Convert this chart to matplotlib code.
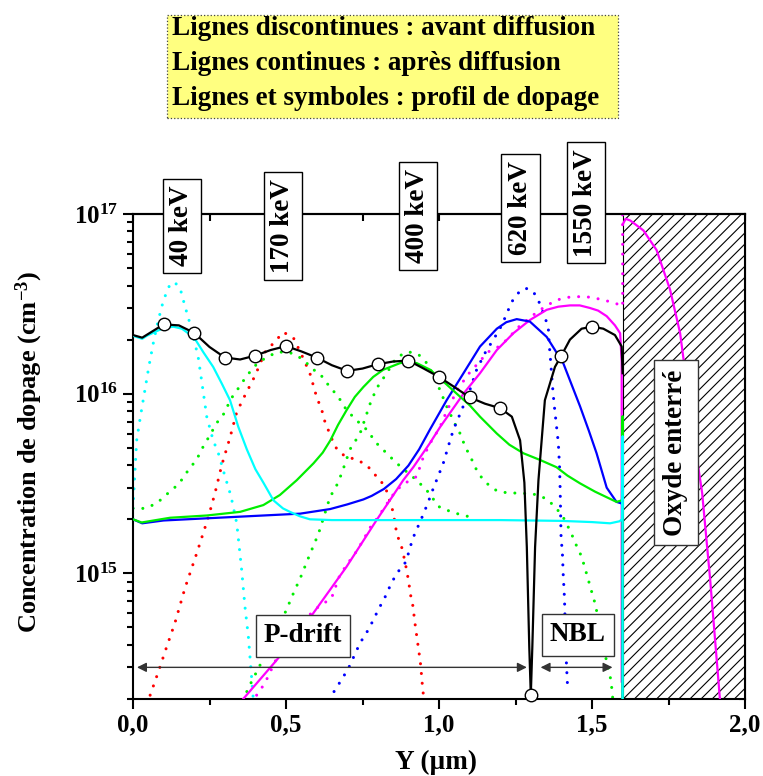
import matplotlib
matplotlib.use('Agg')
import matplotlib.pyplot as plt
from matplotlib.patches import Rectangle
from matplotlib.ticker import (MultipleLocator, LogLocator, NullFormatter,
                               FuncFormatter, LogFormatterMathtext)

plt.rcParams['font.family'] = 'Liberation Serif'
plt.rcParams['font.weight'] = 'bold'
plt.rcParams['mathtext.fontset'] = 'custom'
plt.rcParams['mathtext.rm'] = 'Liberation Serif:bold'
plt.rcParams['mathtext.bf'] = 'Liberation Serif:bold'
plt.rcParams['mathtext.default'] = 'bf'
plt.rcParams['hatch.linewidth'] = 0.8

# ---- doping profile (black line + open circles)
prof_x = [0, 0.03, 0.1, 0.15, 0.2, 0.25, 0.3, 0.35, 0.4, 0.45, 0.5, 0.55, 0.6, 0.65,
          0.7, 0.75, 0.8, 0.85, 0.9, 0.95, 1.0, 1.05, 1.1, 1.15, 1.2, 1.238, 1.265,
          1.279, 1.287, 1.295, 1.30, 1.305, 1.314, 1.325, 1.346, 1.379, 1.4, 1.428,
          1.466, 1.5, 1.537, 1.575, 1.597, 1.6]
prof_y = [2.12e16, 2.05e16, 2.43e16, 2.4e16, 2.18e16, 1.82e16, 1.59e16, 1.55e16,
          1.63e16, 1.75e16, 1.84e16, 1.72e16, 1.59e16, 1.44e16, 1.34e16, 1.38e16,
          1.46e16, 1.51e16, 1.53e16, 1.38e16, 1.24e16, 1.09e16, 9.55e15, 8.8e15,
          8.3e15, 7.45e15, 5.5e15, 3.2e15, 1.4e15, 3.9e14, 2.1e14, 3.9e14, 1.4e15,
          3.3e15, 9.2e15, 1.41e16, 1.63e16, 2.0e16, 2.3e16, 2.36e16, 2.3e16, 2.12e16,
          1.83e16, 1.3e16]
mark_x = [0.1, 0.2, 0.3, 0.4, 0.5, 0.6, 0.7, 0.8, 0.9, 1.0, 1.1, 1.2, 1.3, 1.4, 1.5]
mark_y = [2.43e16, 2.18e16, 1.59e16, 1.63e16, 1.84e16, 1.59e16, 1.34e16, 1.46e16,
          1.53e16, 1.24e16, 9.55e15, 8.3e15, 2.1e14, 1.63e16, 2.36e16]

# ---- after diffusion (solid)
cyan_x = [0, 0.03, 0.045, 0.07, 0.1, 0.132, 0.16, 0.2, 0.23, 0.262, 0.29, 0.317, 0.344,
          0.372, 0.4, 0.426, 0.459, 0.49, 0.513, 0.545, 0.578, 0.65, 0.8, 1.0, 1.2, 1.4,
          1.5, 1.559, 1.59, 1.598, 1.6, 1.6]
cyan_y = [2.1e16, 2.02e16, 2.1e16, 2.2e16, 2.32e16, 2.36e16, 2.3e16, 2.05e16, 1.7e16,
          1.41e16, 1.14e16, 9.2e15, 6.55e15, 4.9e15, 3.8e15, 3.2e15, 2.55e15, 2.3e15,
          2.2e15, 2.08e15, 2.0e15, 1.98e15, 1.98e15, 1.98e15, 1.98e15, 1.96e15, 1.93e15,
          1.9e15, 1.95e15, 2.0e15, 5.8e15, 1e13]
green_x = [0, 0.028, 0.121, 0.241, 0.35, 0.426, 0.48, 0.535, 0.59, 0.62, 0.645, 0.67,
           0.698, 0.725, 0.753, 0.785, 0.818, 0.873, 0.9, 0.927, 0.971, 1.014, 1.058,
           1.101, 1.134, 1.189, 1.23, 1.276, 1.33, 1.384, 1.42, 1.461, 1.51, 1.559,
           1.58, 1.598, 1.6, 1.6]
green_y = [2.0e15, 1.92e15, 2.04e15, 2.1e15, 2.2e15, 2.4e15, 2.73e15, 3.3e15, 4.1e15,
           4.7e15, 5.5e15, 6.7e15, 8.1e15, 9.6e15, 1.09e16, 1.24e16, 1.36e16, 1.48e16,
           1.5e16, 1.48e16, 1.36e16, 1.17e16, 1.0e16, 8.6e15, 7.45e15, 6.0e15, 5.2e15,
           4.66e15, 4.28e15, 3.9e15, 3.5e15, 3.17e15, 2.85e15, 2.6e15, 2.5e15, 2.55e15,
           7.5e15, 1e13]
blue_x = [0, 0.03, 0.1, 0.252, 0.426, 0.546, 0.644, 0.7, 0.753, 0.78, 0.82, 0.86, 0.9,
          0.935, 0.97, 1.025, 1.08, 1.134, 1.189, 1.22, 1.254, 1.297, 1.352, 1.406, 1.461,
          1.49, 1.515, 1.548, 1.58, 1.597, 1.6, 1.6]
blue_y = [2.0e15, 1.9e15, 1.97e15, 2.03e15, 2.1e15, 2.15e15, 2.28e15, 2.42e15, 2.58e15,
          2.7e15, 2.95e15, 3.35e15, 3.98e15, 4.9e15, 6.3e15, 9.2e15, 1.3e16, 1.83e16,
          2.3e16, 2.5e16, 2.6e16, 2.52e16, 2.07e16, 1.48e16, 8.5e15, 6.2e15, 4.66e15,
          3.0e15, 2.5e15, 2.45e15, 2.6e15, 1e13]
mag_x = [0.36, 0.47, 0.589, 0.698, 0.796, 0.84, 0.883, 0.916, 0.97, 1.003, 1.08, 1.134,
         1.189, 1.243, 1.297, 1.352, 1.39, 1.428, 1.46, 1.493, 1.52, 1.548, 1.575, 1.592,
         1.597, 1.597]
mag_y = [2e14, 3.3e14, 6e14, 1.09e15, 1.98e15, 2.56e15, 3.3e15, 3.9e15, 5.3e15, 6.5e15,
         1.0e16, 1.3e16, 1.75e16, 2.17e16, 2.57e16, 2.93e16, 3.05e16, 3.1e16, 3.1e16,
         3.0e16, 2.9e16, 2.7e16, 2.4e16, 2.17e16, 1.5e16, 2.5e14]
oxmag_x = [1.601, 1.61, 1.625, 1.668, 1.711, 1.755, 1.788, 1.831, 1.86, 1.886, 1.918]
oxmag_y = [8.8e16, 9.4e16, 9.2e16, 8.1e16, 6.3e16, 3.8e16, 2.17e16, 6.0e15, 2.8e15,
           9.3e14, 2.0e14]

# ---- before diffusion (dotted)
cyan_dot_x = [0, 0.006, 0.012, 0.025, 0.039, 0.052, 0.066, 0.08, 0.094, 0.11, 0.124,
              0.14, 0.154, 0.17, 0.186, 0.2, 0.213, 0.224, 0.241, 0.262, 0.279, 0.301,
              0.32, 0.339, 0.355, 0.366, 0.377, 0.385, 0.393]
cyan_dot_y = [2.3e15, 3.6e15, 5.5e15, 7.6e15, 1.05e16, 1.42e16, 1.9e16, 2.45e16, 3.06e16,
              3.7e16, 4.15e16, 4.1e16, 3.86e16, 3.06e16, 2.46e16, 1.98e16, 1.6e16, 1.19e16,
              7.45e15, 5.5e15, 4.66e15, 3.45e15, 2.7e15, 1.9e15, 1.05e15, 6.5e14, 4.45e14,
              3.0e14, 2e14]
red_dot_x = [0.056, 0.083, 0.11, 0.137, 0.17, 0.208, 0.246, 0.268, 0.29, 0.317, 0.339,
             0.366, 0.399, 0.431, 0.464, 0.491, 0.524, 0.55, 0.578, 0.6, 0.617, 0.627,
             0.66, 0.693, 0.731, 0.764, 0.796, 0.824, 0.85, 0.862, 0.878, 0.889, 0.9,
             0.907, 0.914, 0.922, 0.929, 0.935, 0.94, 0.947, 0.951]
red_dot_y = [2.1e14, 2.84e14, 3.9e14, 5.3e14, 8.3e14, 1.29e15, 2.05e15, 2.8e15, 4.0e15,
             5.7e15, 7.9e15, 9.8e15, 1.26e16, 1.7e16, 1.95e16, 2.2e16, 2.05e16, 1.66e16,
             1.3e16, 9.6e15, 8.1e15, 7.0e15, 5.07e15, 4.47e15, 4.3e15, 4.0e15, 3.46e15,
             3.05e15, 2.2e15, 1.66e15, 1.4e15, 1.16e15, 9.2e14, 7.6e14, 6.7e14, 5.2e14,
             4.26e14, 3.6e14, 3.1e14, 2.24e14, 2e14]
green_dot1_x = [0, 0.039, 0.077, 0.115, 0.15, 0.181, 0.208, 0.23, 0.252, 0.273, 0.301,
                0.317, 0.344, 0.372, 0.404, 0.437, 0.475, 0.519, 0.557, 0.584, 0.611,
                0.638, 0.671, 0.698, 0.731, 0.764, 0.796, 0.829, 0.862, 0.894, 0.927,
                0.96, 1.0, 1.04, 1.08, 1.118]
green_dot1_y = [2.3e15, 2.3e15, 2.45e15, 2.8e15, 3.15e15, 3.76e15, 4.3e15, 5.1e15, 5.9e15,
                6.85e15, 7.9e15, 9.2e15, 1.07e16, 1.26e16, 1.46e16, 1.6e16, 1.71e16,
                1.68e16, 1.55e16, 1.38e16, 1.29e16, 1.12e16, 9.6e15, 8.1e15, 7.1e15,
                6.3e15, 5.3e15, 4.66e15, 4.1e15, 3.68e15, 3.3e15, 2.9e15, 2.35e15, 2.2e15,
                2.1e15, 2.04e15]
green_dot2_x = [0.372, 0.391, 0.41, 0.45, 0.502, 0.519, 0.551, 0.568, 0.584, 0.606, 0.644,
                0.666, 0.682, 0.709, 0.742, 0.775, 0.796, 0.829, 0.862, 0.9, 0.932, 0.965,
                1.003, 1.025, 1.052, 1.069, 1.085, 1.107, 1.128, 1.156, 1.189, 1.226,
                1.265, 1.314, 1.352, 1.384, 1.41, 1.433, 1.449, 1.466, 1.477, 1.488, 1.499,
                1.51, 1.53, 1.548, 1.559, 1.564, 1.568]
green_dot2_y = [2.2e14, 2.57e14, 2.96e14, 4.1e14, 6.3e14, 7.4e14, 9.8e14, 1.16e15,
                1.35e15, 1.66e15, 2.66e15, 3.1e15, 3.6e15, 4.9e15, 6.0e15, 8.8e15, 1.07e16,
                1.3e16, 1.6e16, 1.71e16, 1.66e16, 1.45e16, 1.05e16, 8.5e15, 6.8e15, 6.0e15,
                5.1e15, 4.3e15, 3.6e15, 3.17e15, 2.88e15, 2.8e15, 2.8e15, 2.75e15, 2.6e15,
                2.3e15, 2.0e15, 1.66e15, 1.43e15, 1.24e15, 1.07e15, 9.2e14, 7.9e14, 6.8e14,
                4.7e14, 3.2e14, 2.7e14, 2.35e14, 2.0e14]
blue_dot_x = [0.657, 0.682, 0.704, 0.742, 0.764, 0.783, 0.802, 0.824, 0.84, 0.86, 0.892,
              0.914, 0.947, 0.963, 0.979, 0.992, 1.014, 1.03, 1.047, 1.074, 1.101, 1.123,
              1.15, 1.183, 1.205, 1.238, 1.267, 1.288, 1.308, 1.325, 1.341, 1.357, 1.36,
              1.365, 1.37, 1.376, 1.382, 1.39, 1.394, 1.396, 1.399, 1.403, 1.406, 1.41,
              1.414, 1.417, 1.421]
blue_dot_y = [2.2e14, 2.57e14, 2.96e14, 4.1e14, 4.7e14, 5.4e14, 6.3e14, 7.4e14, 8.5e14,
              9.9e14, 1.16e15, 1.56e15, 2.1e15, 2.45e15, 2.9e15, 3.3e15, 4.1e15, 5.07e15,
              6.3e15, 8.1e15, 1.05e16, 1.36e16, 1.68e16, 2.07e16, 2.4e16, 3.25e16, 3.78e16,
              3.85e16, 3.7e16, 3.3e16, 2.8e16, 2.36e16, 1.9e16, 1.5e16, 1.15e16, 8.8e15,
              7.1e15, 5.3e15, 3.9e15, 2.9e15, 1.56e15, 1.33e15, 9.8e14, 7.3e14, 4.0e14,
              3.0e14, 2.2e14]
mag_dot_x = [0.404, 0.431, 0.467, 0.533, 0.6, 0.649, 0.676, 0.704, 0.731, 0.753, 0.775,
             0.802, 0.824, 0.85, 0.878, 0.927, 0.949, 0.971, 1.003, 1.025, 1.06, 1.095,
             1.128, 1.161, 1.189, 1.221, 1.26, 1.308, 1.346, 1.384, 1.423, 1.461, 1.499,
             1.537, 1.575, 1.6, 1.6]
mag_dot_y = [2.1e14, 2.45e14, 3.3e14, 5.0e14, 6.4e14, 7.3e14, 9.8e14, 1.15e15, 1.33e15,
             1.54e15, 1.8e15, 2.07e15, 2.36e15, 2.74e15, 3.1e15, 3.46e15, 4.45e15, 5.3e15,
             6.5e15, 8.0e15, 1.05e16, 1.28e16, 1.48e16, 1.71e16, 1.8e16, 1.99e16, 2.35e16,
             2.74e16, 3.05e16, 3.32e16, 3.44e16, 3.47e16, 3.44e16, 3.32e16, 3.2e16,
             3.05e16, 2e17]

energy_labels = ['40 keV', '170 keV', '400 keV', '620 keV', '1550 keV']
legend_lines = ['Lignes discontinues : avant diffusion',
                'Lignes continues : après diffusion',
                'Lignes et symboles : profil de dopage']

W, H = 763, 776
fig = plt.figure(figsize=(W / 100, H / 100), dpi=100)
ax = fig.add_axes([133 / W, 1 - 699 / H, 612 / W, 485 / H])
ax.set_yscale('log')
ax.set_xlim(0, 2.0)
ax.set_ylim(2e14, 1e17)

# buried oxide (hatched)
ax.add_patch(Rectangle((1.6, 0), 0.4, 1, transform=ax.get_xaxis_transform(),
                       facecolor='white', edgecolor='black', hatch='///', lw=0.8,
                       zorder=1))

dot = dict(ls=(0, (0.01, 3.2)), lw=2.2, dash_capstyle='round', zorder=2)
ax.plot(cyan_dot_x, cyan_dot_y, color='#00ffff', **dot)
ax.plot(red_dot_x, red_dot_y, color='#ff0000', **dot)
ax.plot(green_dot1_x, green_dot1_y, color='#00ee00', **dot)
ax.plot(green_dot2_x, green_dot2_y, color='#00ee00', **dot)
ax.plot(blue_dot_x, blue_dot_y, color='#0000ff', **dot)
ax.plot(mag_dot_x, mag_dot_y, color='#ff00ff', **dot)

ax.plot(mag_x, mag_y, color='#ff00ff', lw=1.6, zorder=3)
ax.plot(oxmag_x, oxmag_y, color='#ff00ff', lw=1.6, zorder=3)
ax.plot(blue_x, blue_y, color='#0000ff', lw=1.6, zorder=3)
ax.plot(green_x, green_y, color='#00ee00', lw=1.6, zorder=3)
ax.plot(cyan_x, cyan_y, color='#00ffff', lw=1.6, zorder=3)
ax.plot(prof_x, prof_y, color='black', lw=1.6, zorder=4)
ax.plot(mark_x, mark_y, ls='none', marker='o', ms=9, mfc='white', mec='black',
        mew=1, zorder=5, clip_on=False)

# region arrows
arr = dict(arrowstyle='<|-|>', color='#333333', lw=1, mutation_scale=14,
           shrinkA=0, shrinkB=0)
ax.annotate('', xy=(0.013, 3e14), xytext=(1.287, 3e14), arrowprops=arr, zorder=4)
ax.annotate('', xy=(1.332, 3e14), xytext=(1.567, 3e14), arrowprops=arr, zorder=4)

box = dict(boxstyle='square,pad=0.3', fc='white', ec='#333333', lw=1)
ax.text(0.556, 0.13, 'P-drift', transform=ax.get_xaxis_transform(), ha='center',
        va='center', fontsize=19.5, bbox=box, zorder=6)
ax.text(1.454, 0.132, 'NBL', transform=ax.get_xaxis_transform(), ha='center',
        va='center', fontsize=19.5, bbox=box, zorder=6)
ax.text(1.773, 0.508, 'Oxyde enterré', transform=ax.get_xaxis_transform(),
        rotation=90, ha='center', va='center', fontsize=19.5,
        bbox=dict(boxstyle='square,pad=0.35', fc='white', ec='#333333', lw=1), zorder=6)

ebox = dict(boxstyle='square,pad=0.25', fc='white', ec='black', lw=1)
for lab, xp, yp in zip(energy_labels, [0.160, 0.490, 0.931, 1.266, 1.480],
                       [0.975, 0.975, 0.996, 1.012, 1.023]):
    ax.text(xp, yp, lab, transform=ax.get_xaxis_transform(), rotation=90,
            ha='center', va='center', fontsize=19.5, bbox=ebox, clip_on=False,
            zorder=7)

# axes styling
for s in ax.spines.values():
    s.set_linewidth(1.5)
ax.xaxis.set_major_locator(MultipleLocator(0.5))
ax.xaxis.set_minor_locator(MultipleLocator(0.25))
ax.xaxis.set_major_formatter(FuncFormatter(lambda v, p: f'{v:.1f}'.replace('.', ',')))
ax.yaxis.set_major_locator(LogLocator(base=10))
ax.yaxis.set_minor_locator(LogLocator(base=10, subs=range(2, 10)))
ax.yaxis.set_major_formatter(LogFormatterMathtext())
ax.yaxis.set_minor_formatter(NullFormatter())
ax.tick_params(which='major', direction='out', length=7, width=1.5, labelsize=18)
ax.tick_params(which='minor', direction='out', length=4.5, width=1.5)
ax.tick_params(top=False, right=False)

secx = ax.secondary_xaxis('top')
secx.xaxis.set_major_locator(MultipleLocator(0.5))
secx.xaxis.set_minor_locator(MultipleLocator(0.25))
secx.tick_params(which='both', direction='in', length=5, width=1.5, labeltop=False)
secy = ax.secondary_yaxis('right')
secy.yaxis.set_major_locator(LogLocator(base=10))
secy.yaxis.set_minor_locator(LogLocator(base=10, subs=range(2, 10)))
secy.tick_params(which='major', direction='in', length=7, width=1.5, labelright=False)
secy.tick_params(which='minor', direction='in', length=4.5, width=1.5)
for sa in (secx, secy):
    for s in sa.spines.values():
        s.set_linewidth(1.5)

ax.set_xlabel('Y (µm)', fontsize=19.5, fontweight='bold')
ax.xaxis.set_label_coords(0.495, -0.104)
ax.set_ylabel('Concentration de dopage (cm$^{-3}$)', fontsize=19, fontweight='bold')
ax.yaxis.set_label_coords(-0.144, 0.51)

# note box
fig.add_artist(Rectangle((167 / W, 1 - 118 / H), 451 / W, 103 / H,
                         transform=fig.transFigure, facecolor='#ffff80',
                         edgecolor='#444444', lw=0.9, ls=':'))
for line, yb in zip(legend_lines, [35, 70, 105]):
    fig.text(172 / W, 1 - yb / H, line, ha='left', va='baseline', fontsize=19.5)

fig.savefig('out.png', dpi=100)
